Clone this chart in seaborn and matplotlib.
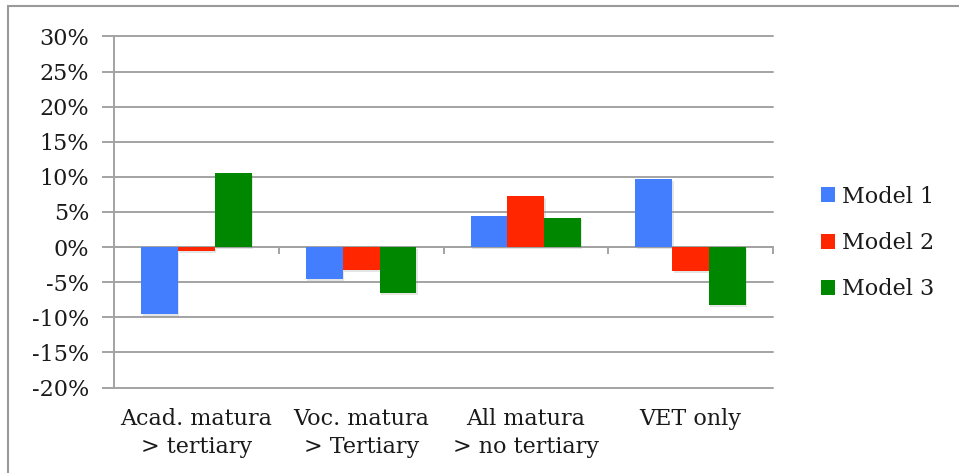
"""
Grouped bar chart: model estimates by education pathway.
"""

import matplotlib

matplotlib.use("Agg")

import matplotlib.patheffects as pe
import matplotlib.pyplot as plt
import pandas as pd
import seaborn as sns
from matplotlib.patches import Patch, Rectangle
from matplotlib.ticker import MultipleLocator, PercentFormatter

# Data (percent)
categories = [
    "Acad. matura\n> tertiary",
    "Voc. matura\n> Tertiary",
    "All matura\n> no tertiary",
    "VET only",
]
models = ["Model 1", "Model 2", "Model 3"]
model_1 = [-9.6, -4.5, 4.5, 9.7]
model_2 = [-0.5, -3.3, 7.3, -3.4]
model_3 = [10.5, -6.5, 4.2, -8.3]
colors = ["#437EFF", "#FF2600", "#008700"]

rows = []
for model, values in zip(models, [model_1, model_2, model_3]):
    for cat, val in zip(categories, values):
        rows.append({"category": cat, "model": model, "value": val})
df = pd.DataFrame(rows)

sns.set_style("white")
plt.rcParams["font.family"] = ["DejaVu Serif"]
plt.rcParams["axes.unicode_minus"] = False
GRID = "#a3a3a3"
TEXT = "#1a1a1a"

fig = plt.figure(figsize=(9.59, 4.73), dpi=100)
ax = fig.add_axes([114 / 959, 1 - 387.5 / 473, (773 - 114) / 959, (387.5 - 36.5) / 473])

sns.barplot(
    data=df,
    x="category",
    y="value",
    hue="model",
    order=categories,
    hue_order=models,
    palette=colors,
    width=0.67,
    gap=0,
    saturation=1,
    linewidth=0,
    errorbar=None,
    legend=False,
    ax=ax,
)

# faint drop shadow like the original office chart
for bar in ax.patches:
    bar.set_path_effects(
        [pe.SimplePatchShadow(offset=(1, -1.5), shadow_rgbFace="#999999", alpha=0.25), pe.Normal()]
    )

ax.set_ylim(-20, 30)
ax.set_xlim(-0.5, len(categories) - 0.5)
ax.yaxis.set_major_locator(MultipleLocator(5))
ax.yaxis.set_major_formatter(PercentFormatter(decimals=0))
ax.yaxis.grid(True, color=GRID, linewidth=1.4)
ax.set_axisbelow(True)
for line in ax.get_ygridlines():
    line.set_clip_on(False)

for side in ["top", "right", "bottom"]:
    ax.spines[side].set_visible(False)
ax.spines["left"].set_color(GRID)
ax.spines["left"].set_linewidth(1.4)

ax.tick_params(axis="y", direction="out", length=9, width=1.4, color=GRID,
               pad=9, labelsize=16, labelcolor=TEXT, left=True)
ax.tick_params(axis="x", length=0, pad=15, labelsize=16, labelcolor=TEXT)
for label in ax.get_xticklabels():
    label.set_linespacing(1.35)
ax.set_xlabel("")
ax.set_ylabel("")

# category axis sitting on the zero line, with ticks between groups
zero_axis = ax.secondary_xaxis(0, transform=ax.transData)
zero_axis.spines["bottom"].set_color(GRID)
zero_axis.spines["bottom"].set_linewidth(1.4)
zero_axis.set_xticks([i + 0.5 for i in range(len(categories))])
zero_axis.tick_params(direction="out", length=5, width=1.4, color=GRID, labelbottom=False)

handles = [Patch(facecolor=c, edgecolor="none") for c in colors]
fig.legend(
    handles,
    models,
    loc="center left",
    bbox_to_anchor=(821 / 959, 1 - 243 / 473),
    frameon=False,
    fontsize=16,
    labelcolor=TEXT,
    handlelength=0.65,
    handleheight=0.65,
    handletextpad=0.3,
    labelspacing=1.1,
    borderpad=0,
    borderaxespad=0,
)

# gray frame around the chart area
fig.patches.append(
    Rectangle((8 / 959, -0.1), 1.2, 1.1 - 6 / 473, transform=fig.transFigure,
              fill=False, edgecolor="#9a9a9a", linewidth=1.5)
)

fig.savefig("out.png", dpi=100, facecolor="white")
